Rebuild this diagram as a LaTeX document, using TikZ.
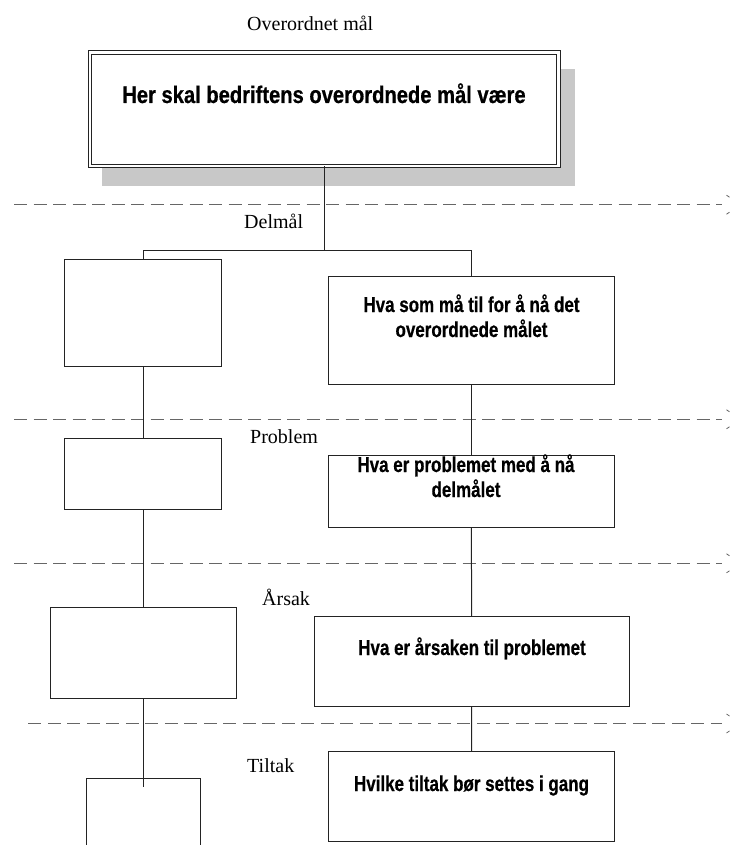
\documentclass[tikz,border=0pt]{standalone}
\usepackage{fontspec}
\setmainfont{Liberation Serif}
\newfontfamily\headfont[FakeStretch=0.84,FakeBold=0.6]{Liberation Sans}
\newfontfamily\cellfont[FakeStretch=0.79,FakeBold=0.5]{Liberation Sans}
\definecolor{shadowgray}{RGB}{200,200,200}
\definecolor{ink}{RGB}{35,35,35}
\begin{document}
\begin{tikzpicture}[x=1pt,y=-1pt,
  box/.style={draw=ink,line width=1pt,rectangle,inner sep=0pt,outer sep=0pt,
    anchor=north west,fill=white},
  levellabel/.style={font=\fontsize{20}{24}\selectfont,anchor=base west,inner sep=0pt},
  cell/.style={font=\cellfont\bfseries\fontsize{21.5}{25}\selectfont,anchor=base,inner sep=0pt},
  headtext/.style={font=\headfont\bfseries\fontsize{24}{28}\selectfont,anchor=base,inner sep=0pt},
  link/.style={draw=ink,line width=1pt},
  divider/.style={draw=black!60,line width=1pt,dash pattern=on 13pt off 6.5pt},
  endtick/.style={draw=black!60,line width=0.8pt},
]
\useasboundingbox (0,0) rectangle (731,845);
\begin{scope}
\clip (0,0) rectangle (731,845);

% dashed dividers between the levels
\foreach \yy/\xs [count=\i] in {204.7/14, 419.3/14, 563.3/14, 723.5/28.3}{
  \coordinate (d\i w) at (\xs,\yy);
  \coordinate (d\i e) at (722,\yy);
  \draw[divider] (d\i w) -- (d\i e);
  \draw[endtick] (726.5,\yy-9.5) -- (729.5,\yy-7.5);
  \draw[endtick] (729.5,\yy+7.5) -- (726.5,\yy+9.5);
}

% top goal with drop shadow and double frame
\fill[shadowgray] (102,69) rectangle (575,186);
\node[box,double,double distance=2.3pt,minimum width=468.7pt,minimum height=113.7pt]
  (goal) at (89.65,52.65) {};
\node[headtext] (goaltext) at (324,103) {Her skal bedriftens overordnede mål være};

% level labels
\node[levellabel] (lblgoal) at (247,31) {Overordnet mål};
\node[levellabel] (lbldel) at (244,228) {Delmål};
\node[levellabel] (lblprob) at (250,443) {Problem};
\node[levellabel] (lblcause) at (262,605) {Årsak};
\node[levellabel] (lblact) at (247,772) {Tiltak};

% left column
\node[box,minimum width=157.4pt,minimum height=107pt] (L1) at (64.3,259) {};
\node[box,minimum width=157.4pt,minimum height=71pt] (L2) at (64.3,438) {};
\node[box,minimum width=186pt,minimum height=90.6pt] (L3) at (50,607.7) {};
\node[box,minimum width=114pt,minimum height=75pt] (L4) at (86,778.3) {};

% right column
\node[box,minimum width=285.3pt,minimum height=107.3pt] (R1) at (328.7,276.7) {};
\node[box,minimum width=285.3pt,minimum height=71.8pt] (R2) at (328.7,455.7) {};
\node[box,minimum width=315.3pt,minimum height=90.7pt] (R3) at (314,616) {};
\node[box,minimum width=285.6pt,minimum height=89.3pt] (R4) at (328.7,751.7) {};

\node[cell] (r1a) at (471.5,312) {Hva som må til for å nå det};
\node[cell] (r1b) at (471.5,337) {overordnede målet};
\node[cell] (r2a) at (466,472) {Hva er problemet med å nå};
\node[cell] (r2b) at (466,497) {delmålet};
\node[cell] (r3a) at (472,655) {Hva er årsaken til problemet};
\node[cell] (r4a) at (471.5,791) {Hvilke tiltak bør settes i gang};

% connectors
\coordinate (fork) at (goal.south |- 0,250);
\coordinate (forkL) at (L1.north |- fork);
\coordinate (forkR) at (R1.north |- fork);
\draw[link] (goal.south) -- (fork);
\draw[link] (forkL) -- (forkR);
\draw[link] (forkL) -- (L1.north);
\draw[link] (forkR) -- (R1.north);
\draw[link] (L1.south) -- (L2.north);
\draw[link] (L2.south) -- (L3.north);
\draw[link] (L3.south) -- ([yshift=-8.5pt]L4.north);
\draw[link] (R1.south) -- (R2.north);
\draw[link] (R2.south) -- (R3.north);
\draw[link] (R3.south) -- (R4.north);
\end{scope}
\end{tikzpicture}
\end{document}
